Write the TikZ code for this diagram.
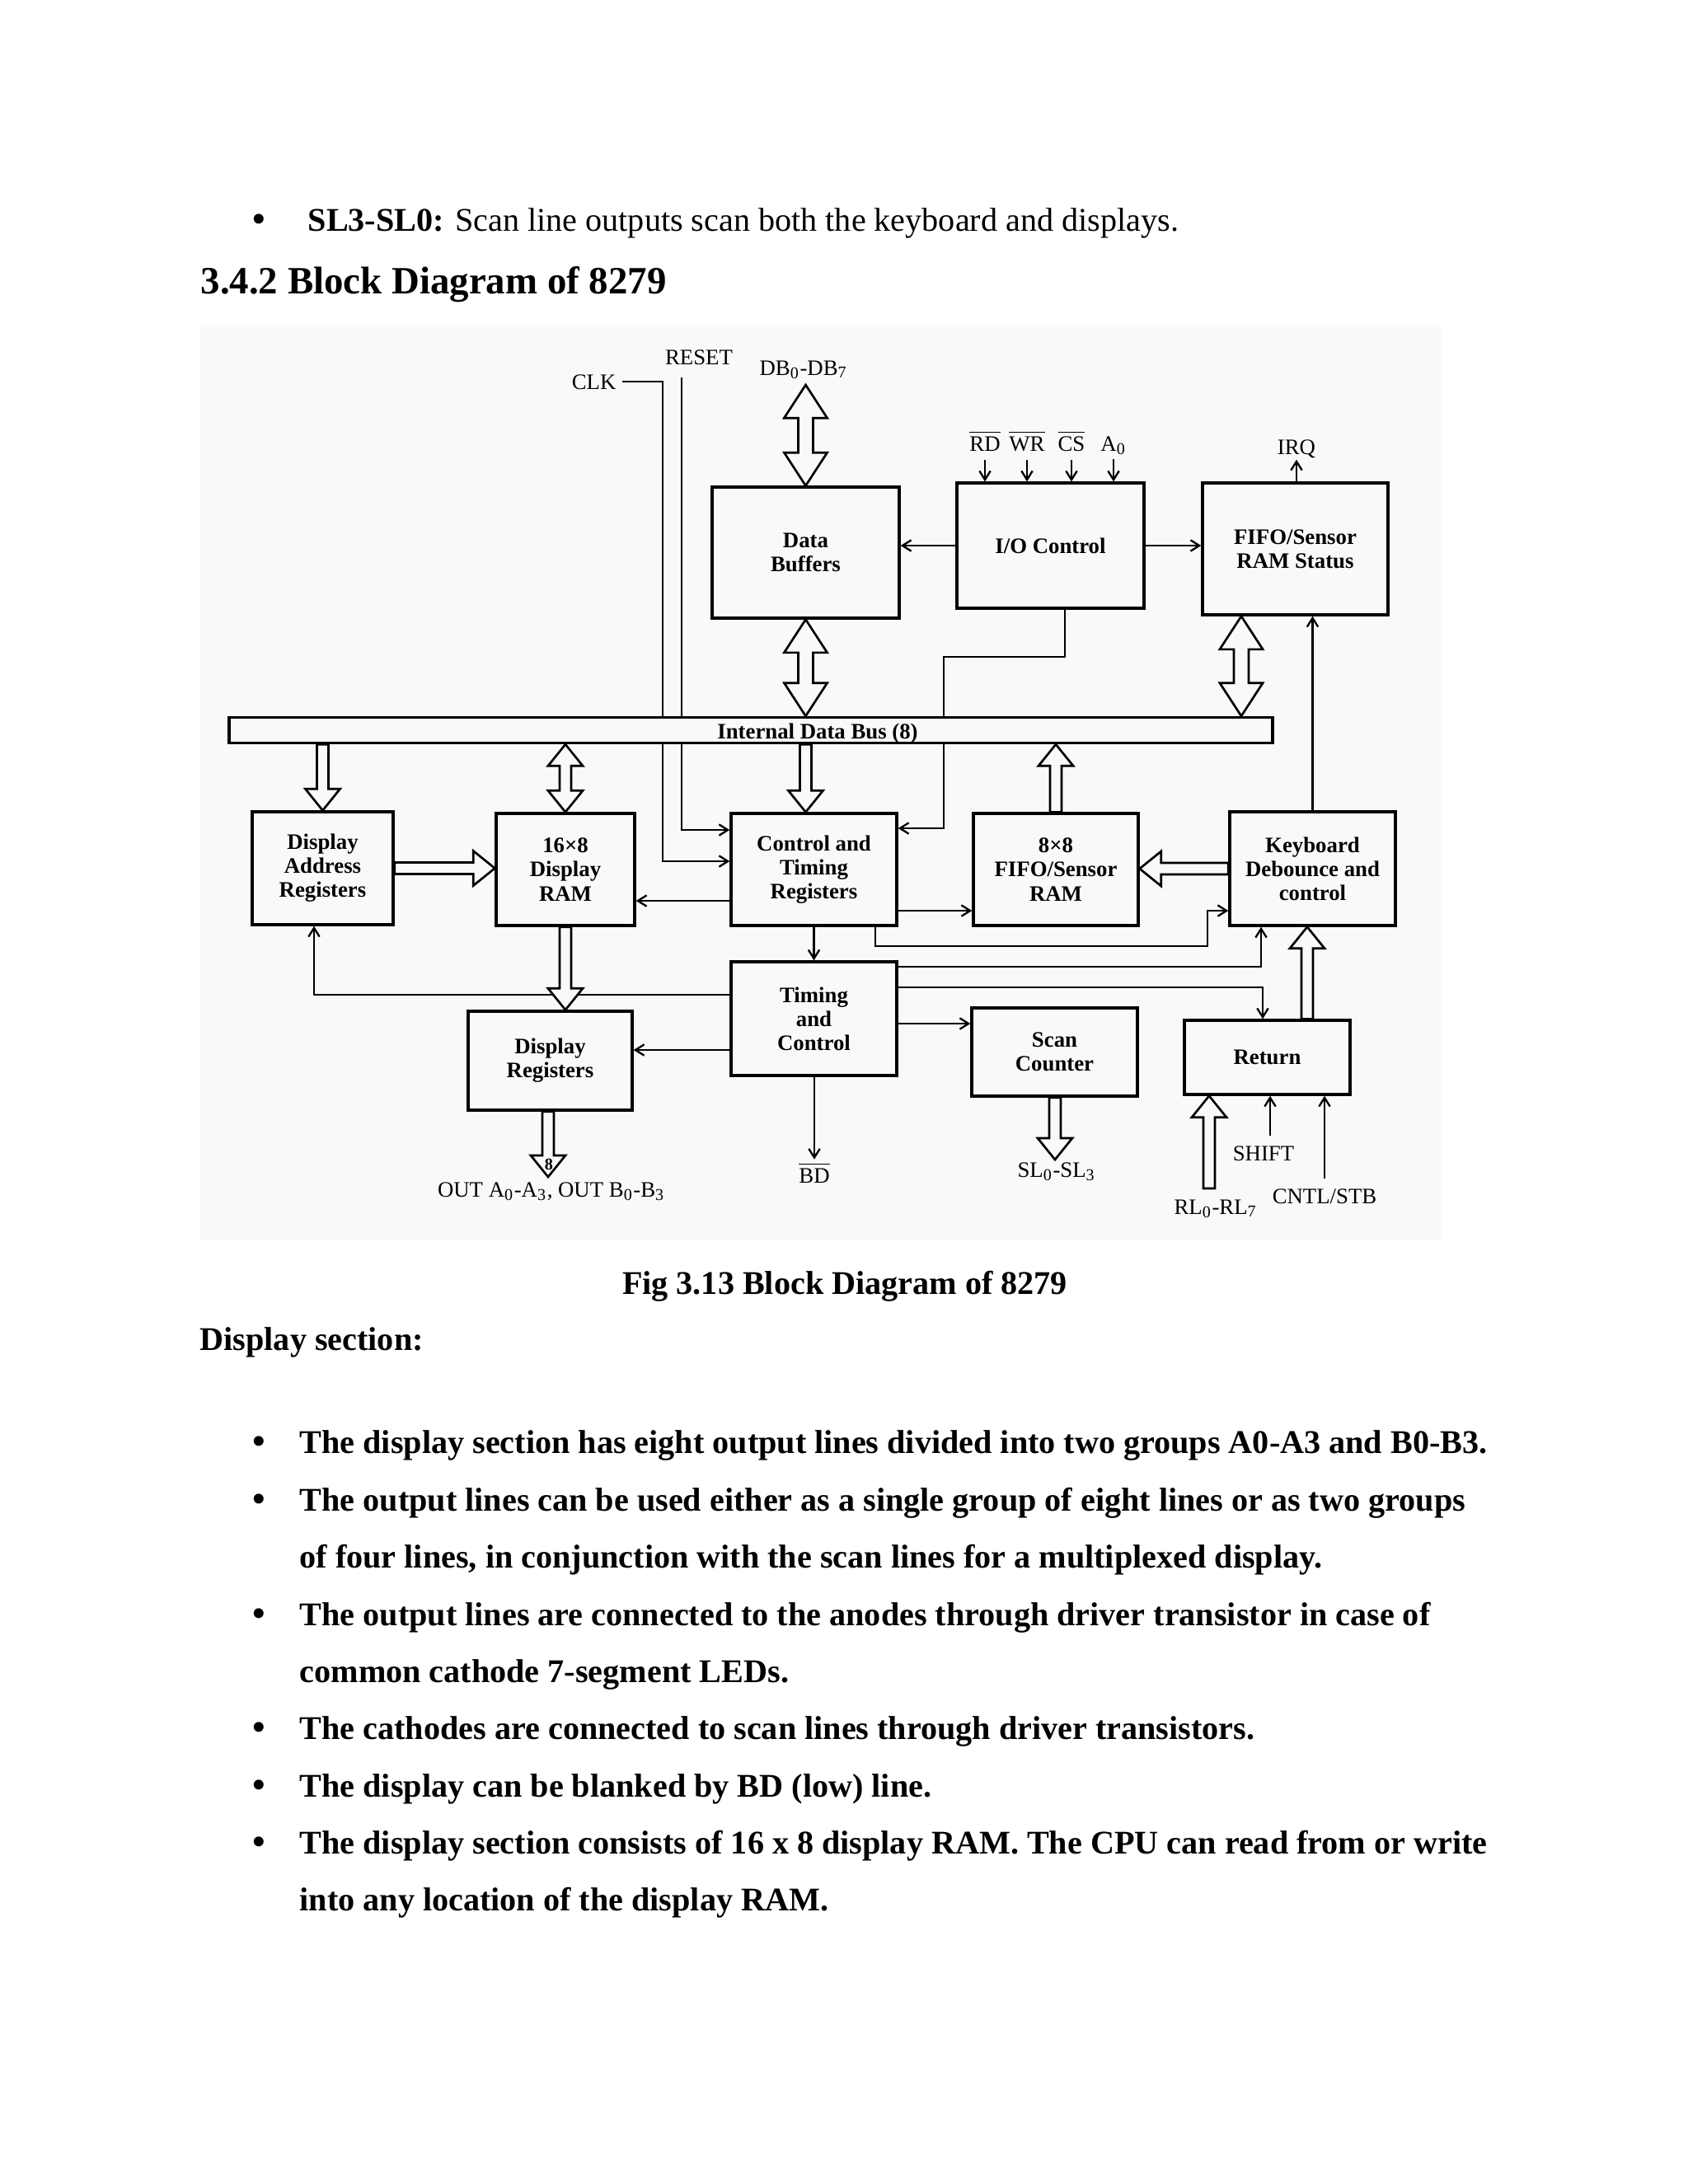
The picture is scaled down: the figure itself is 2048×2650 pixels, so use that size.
\documentclass[tikz,border=0pt]{standalone}
\usepackage{fontspec}
\setmainfont{Liberation Serif}
\usetikzlibrary{arrows.meta,calc}
\definecolor{bg}{gray}{0.975}
\def\fsw{2.1pt}\def\fhw{6.3pt}\def\fhl{7.8pt}
\newcommand\bigfat{\def\fsw{2.7pt}\def\fhw{7.8pt}\def\fhl{12pt}}
\newcommand\fatV[2]{\path[fat] let \p1=(#1), \p2=(#2), \n1={sign(\y1-\y2)} in
  (\x1-\fsw,\y1) -- (\x1-\fsw,{\y2+\n1*\fhl}) -- (\x1-\fhw,{\y2+\n1*\fhl}) -- (\x1,\y2)
  -- (\x1+\fhw,{\y2+\n1*\fhl}) -- (\x1+\fsw,{\y2+\n1*\fhl}) -- (\x1+\fsw,\y1) -- cycle;}
\newcommand\fatH[2]{\path[fat] let \p1=(#1), \p2=(#2), \n1={sign(\x1-\x2)} in
  (\x1,\y1-\fsw) -- ({\x2+\n1*\fhl},\y1-\fsw) -- ({\x2+\n1*\fhl},\y1-\fhw) -- (\x2,\y1)
  -- ({\x2+\n1*\fhl},\y1+\fhw) -- ({\x2+\n1*\fhl},\y1+\fsw) -- (\x1,\y1+\fsw) -- cycle;}
\newcommand\fatDV[2]{\path[fat] let \p1=(#1), \p2=(#2), \n1={sign(\y1-\y2)} in
  (\x1,\y1) -- (\x1+\fhw,{\y1-\n1*\fhl}) -- (\x1+\fsw,{\y1-\n1*\fhl}) -- (\x1+\fsw,{\y2+\n1*\fhl})
  -- (\x1+\fhw,{\y2+\n1*\fhl}) -- (\x1,\y2) -- (\x1-\fhw,{\y2+\n1*\fhl}) -- (\x1-\fsw,{\y2+\n1*\fhl})
  -- (\x1-\fsw,{\y1-\n1*\fhl}) -- (\x1-\fhw,{\y1-\n1*\fhl}) -- cycle;}
\begin{document}
\begin{tikzpicture}[x=0.2988pt,y=-0.2988pt,
  blk/.style 2 args={draw, line width=1pt, minimum width=#1*0.2988pt, minimum height=#2*0.2988pt,
     inner sep=0pt, align=center, font=\fontsize{8}{8.7}\selectfont\bfseries},
  lbl/.style={inner sep=0pt, font=\fontsize{8}{9}\selectfont},
  wire/.style={line width=0.7pt},
  arr/.style={wire, -{Straight Barb[length=3.2pt,width=4pt]}},
  fat/.style={draw, line width=0.8pt, fill=bg, line join=miter},
  ptext/.style={inner sep=0pt, anchor=base west, font=\fontsize{12}{14}\selectfont\bfseries},
  bul/.style={inner sep=0pt, anchor=base west, font=\fontsize{15}{15}\selectfont},
]
\useasboundingbox[fill=white] (0,0) rectangle (2048,2650);
\fill[bg] (242,397) rectangle (1749,1504);

% ---- page text ----
\node[bul] (b0) at (305,282) {•};
\node[ptext, font=\fontsize{12}{14}\selectfont] (t0) at (373,280) {\textbf{SL3-SL0:} Scan line outputs scan both the keyboard and displays.};
\node[ptext, font=\fontsize{14}{16}\selectfont\bfseries] (head) at (243,356) {3.4.2 Block Diagram of 8279};
\node[ptext, anchor=base] (cap) at (1025,1570) {Fig 3.13 Block Diagram of 8279};
\node[ptext] (sec) at (242,1638) {Display section:};
\node[bul] (b1) at (305,1765) {•};
\node[ptext] (l1) at (363,1763) {The display section has eight output lines divided into two groups A0-A3 and B0-B3.};
\node[bul] (b2) at (305,1835) {•};
\node[ptext] (l2) at (363,1833) {The output lines can be used either as a single group of eight lines or as two groups};
\node[ptext] (l3) at (363,1902) {of four lines, in conjunction with the scan lines for a multiplexed display.};
\node[bul] (b4) at (305,1974) {•};
\node[ptext] (l4) at (363,1972) {The output lines are connected to the anodes through driver transistor in case of};
\node[ptext] (l5) at (363,2041) {common cathode 7-segment LEDs.};
\node[bul] (b6) at (305,2112) {•};
\node[ptext] (l6) at (363,2110) {The cathodes are connected to scan lines through driver transistors.};
\node[bul] (b7) at (305,2182) {•};
\node[ptext] (l7) at (363,2180) {The display can be blanked by BD (low) line.};
\node[bul] (b8) at (305,2251) {•};
\node[ptext] (l8) at (363,2249) {The display section consists of 16 x 8 display RAM. The CPU can read from or write};
\node[ptext] (l9) at (363,2318) {into any location of the display RAM.};

% ---- blocks ----
\node[blk={227}{159}] (buf) at (977.5,670.5) {Data\\Buffers};
\node[blk={227}{152}] (io) at (1274.5,662) {I/O Control};
\node[blk={225}{160}] (fst) at (1571.5,666) {FIFO/Sensor\\RAM Status};
\node[blk={171}{137}] (dar) at (391.5,1053.5) {Display\\Address\\Registers};
\node[blk={168}{136}] (ram) at (686,1055) {16×8\\Display\\RAM};
\node[blk={201}{136}] (ctr) at (987.5,1055) {Control and\\Timing\\Registers};
\node[blk={200}{136}] (fram) at (1281,1055) {8×8\\FIFO/Sensor\\RAM};
\node[blk={201}{138}] (kb) at (1592.5,1054) {Keyboard\\Debounce and\\control};
\node[blk={201}{138}] (tc) at (987.5,1236) {Timing\\and\\Control};
\node[blk={199}{120}] (dreg) at (667.5,1287) {Display\\Registers};
\node[blk={201}{107}] (scan) at (1279.5,1276.5) {Scan\\Counter};
\node[blk={201}{90}] (ret) at (1537.5,1283) {Return};

% ---- labels ----
\node[lbl, anchor=base east] (clk) at (748,472) {CLK};
\node[lbl, anchor=base] (reset) at (848,442) {RESET};
\node[lbl, anchor=base] (db) at (975,455) {DB\textsubscript{0}-DB\textsubscript{7}};
\node[lbl, anchor=base] (rd) at (1195,547) {$\overline{\hbox{RD}}$};
\node[lbl, anchor=base] (wr) at (1246,547) {$\overline{\hbox{WR}}$};
\node[lbl, anchor=base] (cs) at (1300,547) {$\overline{\hbox{CS}}$};
\node[lbl, anchor=base] (a0) at (1351,547) {A\textsubscript{0}};
\node[lbl, anchor=base] (irq) at (1573,551) {IRQ};
\node[lbl, anchor=base] (out) at (669,1452) {OUT A\textsubscript{0}-A\textsubscript{3}, OUT B\textsubscript{0}-B\textsubscript{3}};
\node[lbl, anchor=base] (bd) at (988,1435) {$\overline{\hbox{BD}}$};
\node[lbl, anchor=base] (sl) at (1282,1428) {SL\textsubscript{0}-SL\textsubscript{3}};
\node[lbl, anchor=base] (rl) at (1475,1473) {RL\textsubscript{0}-RL\textsubscript{7}};
\node[lbl, anchor=base] (shift) at (1533,1408) {SHIFT};
\node[lbl, anchor=base] (cntl) at (1607,1460) {CNTL/STB};

% ---- coordinates ----
\coordinate (clkturn) at (804,1045);
\coordinate (rsttop) at (827,458);
\coordinate (rstturn) at (827,1007);
\coordinate (iox) at (1292,797);
\coordinate (iox2) at (1145,1005);
\coordinate (fstx) at (1506,0);
\coordinate (cr) at (0,1093);
\coordinate (cf) at (0,1105);
\coordinate (ck1) at (1062,1148);
\coordinate (ck2) at (1465,1105);
\coordinate (td) at (381,1207);
\coordinate (tdr) at (0,1274);
\coordinate (tk) at (1530,1173);
\coordinate (tr) at (1532,1198);
\coordinate (ts) at (0,1242);
\coordinate (outx) at (665,1428);
\coordinate (slx) at (1280,1407);
\coordinate (rkx) at (1586,0);
\coordinate (rlb) at (1467,1442);
\coordinate (shb) at (1541,1378);
\coordinate (cnb) at (1607,1430);
\coordinate (dbtip) at (977.5,467);

% ---- thin connectors ----
\draw[arr] ([xshift=2pt]clk.east) -| (clkturn) -- (clkturn -| ctr.west);
\draw[arr] (rsttop) |- (rstturn -| ctr.west);
\draw[arr] (io.west) -- (io.west -| buf.east);
\draw[arr] (io.east) -- (io.east -| fst.west);
\foreach \s in {rd,wr,cs} \draw[arr] ([yshift=-3pt]\s.south) -- (\s.south |- io.north);
\draw[arr] ([yshift=-1.5pt]a0.south) -- (a0.south |- io.north);
\draw[arr] (irq.south |- fst.north) -- ([yshift=-0.5pt]irq.south);
\draw[arr] (io.south -| iox) |- (iox2 |- iox) -- (iox2) -- (iox2 -| ctr.east);
\draw[arr] (kb.north) -- (kb.north |- fst.south);
\draw[arr] (ctr.west |- cr) -- (ram.east |- cr);
\draw[arr] (ctr.south) -- (tc.north);
\draw[arr] (ctr.east |- cf) -- (fram.west |- cf);
\draw[arr] (ctr.south -| ck1) |- (ck2 |- ck1) -- (ck2) -- (ck2 -| kb.west);
\draw[arr] (tc.west |- td) -| (dar.south -| td);
\draw[arr] (tc.west |- tdr) -- (dreg.east |- tdr);
\draw[arr] (tc.south -| bd.north) -- ([yshift=1pt]bd.north);
\draw[arr] (tc.east |- tk) -| (kb.south -| tk);
\draw[arr] (tc.east |- tr) -| (ret.north -| tr);
\draw[arr] (tc.east |- ts) -- (scan.west |- ts);
\draw[arr] (shb) -- (ret.south -| shb);
\draw[arr] (cnb) -- (ret.south -| cnb);

% ---- internal data bus ----
\node[draw, fill=bg, line width=1pt, minimum width=1266*0.2988pt, minimum height=31*0.2988pt, inner sep=0pt] (bus) at (911,886) {};
\node[inner sep=0pt, anchor=base, font=\fontsize{8}{9}\selectfont\bfseries] (buslbl) at (992,896) {Internal Data Bus (8)};

% ---- wide arrows ----
{\bigfat \fatDV{dbtip}{buf.north}}
{\bigfat \fatDV{buf.south}{buf.south |- bus.north}}
{\bigfat \fatDV{fst.south -| fstx}{bus.north -| fstx}}
\fatV{dar.north |- bus.south}{dar.north}
\fatDV{ram.north |- bus.south}{ram.north}
\fatV{buf.south |- bus.south}{buf.south |- ctr.north}
\fatV{fram.north}{fram.north |- bus.south}
\fatH{dar.east}{dar.east -| ram.west}
\fatH{kb.west}{kb.west -| fram.east}
\fatV{ram.south}{ram.south |- dreg.north}
\fatV{dreg.south -| outx}{outx}
\fatV{scan.south -| slx}{slx}
\fatV{ret.north -| rkx}{kb.south -| rkx}
\fatV{rlb}{ret.south -| rlb}
\node[inner sep=0pt, font=\fontsize{6}{6}\selectfont\bfseries] (eight) at (666,1413) {8};
\end{tikzpicture}
\end{document}
